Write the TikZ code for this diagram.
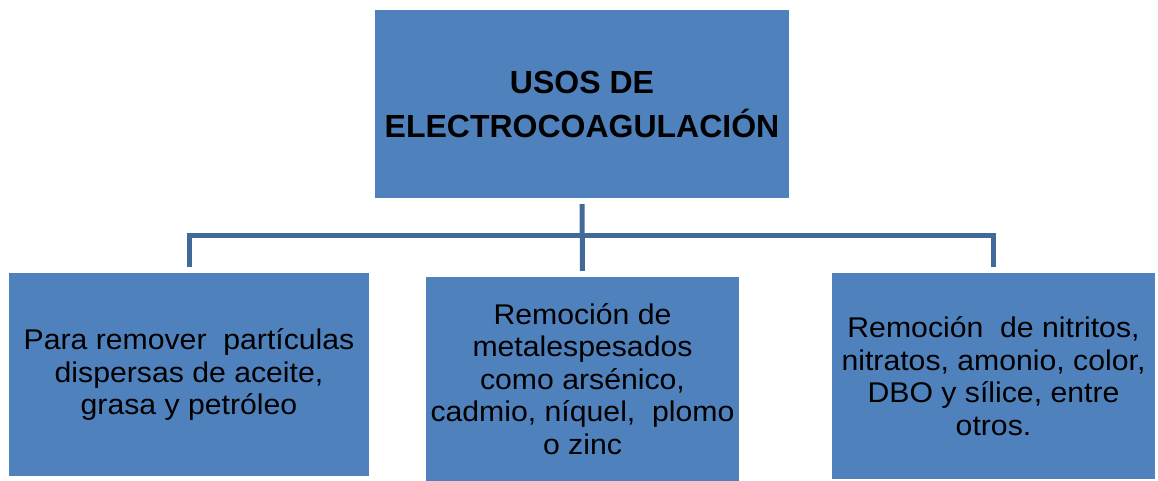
\documentclass[tikz,border=0pt]{standalone}
\usepackage{fontspec}
\setmainfont{Liberation Sans}
\newfontfamily\widefont{Liberation Sans}[FakeStretch=1.06]
\definecolor{boxblue}{HTML}{4F81BD}
\definecolor{lineblue}{HTML}{41699A}
\begin{document}
\begin{tikzpicture}[x=1pt,y=-1pt,
  topbox/.style={fill=boxblue, draw=none, inner sep=0pt, align=center,
    font=\fontsize{32}{44}\selectfont\bfseries},
  leafbox/.style={fill=boxblue, draw=none, inner sep=0pt, align=center,
    font=\widefont\fontsize{28.5}{32.5}\selectfont},
  conn/.style={draw=lineblue, line width=5pt}]
\useasboundingbox (0,0) rectangle (1158,481);
\node[topbox, minimum width=414pt, minimum height=188pt] (top) at (582,104) {USOS DE\\ELECTROCOAGULACIÓN};
\node[leafbox, minimum width=360pt, minimum height=203pt] (left) at (189,374.5)
  {Para remover\ \ partículas\\dispersas de aceite,\\grasa y petróleo};
\node[leafbox, minimum width=313pt, minimum height=204pt] (mid) at (582.5,379)
  {Remoción de\\metalespesados\\como arsénico,\\cadmio, níquel,\ \ plomo\\o zinc};
\node[leafbox, minimum width=323pt, minimum height=206pt] (right) at (993.5,376)
  {Remoción\ \ de nitritos,\\nitratos, amonio, color,\\DBO y sílice, entre\\otros.};
\coordinate (hub) at (582,235.5);
\draw[conn, shorten <=6pt, shorten >=6pt] (top.south) -- (mid.north);
\draw[conn, shorten <=6pt, shorten >=6pt] (left.north) |- (hub) -| (right.north);
\end{tikzpicture}
\end{document}
